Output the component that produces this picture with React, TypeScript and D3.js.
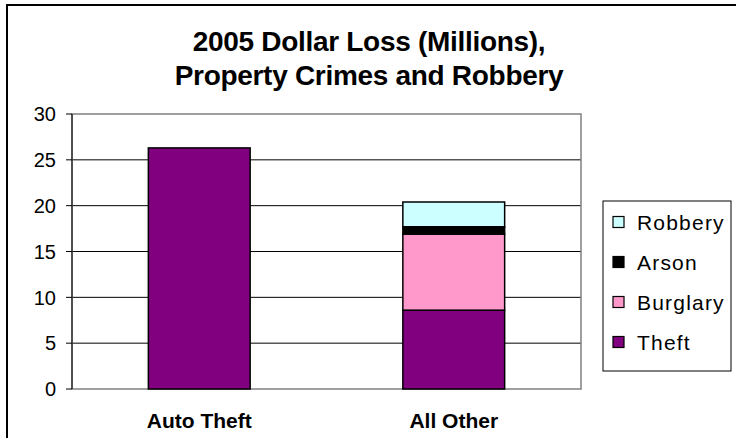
import React from "react";
import * as d3 from "d3";

const categories = ["Auto Theft", "All Other"];
const seriesNames = ["Theft", "Burglary", "Arson", "Robbery"];
const theft = [26.3, 8.6];
const burglary = [0, 8.3];
const arson = [0, 0.8];
const robbery = [0, 2.7];
const yTicks = [0, 5, 10, 15, 20, 25, 30];
const colors = ["#800080", "#FF99CC", "#000000", "#CCFFFF"];
const titleLines = ["2005 Dollar Loss (Millions),", "Property Crimes and Robbery"];

export default function App() {
  const W = 736, H = 438;
  const plot = { left: 72, right: 581, top: 114, bottom: 389 };
  const x = d3.scaleBand().domain(categories).range([plot.left, plot.right]).paddingInner(0.6).paddingOuter(0.3);
  const y = d3.scaleLinear().domain([0, 30]).range([plot.bottom, plot.top]);
  const rows = categories.map((c, i) => ({
    cat: c,
    Theft: theft[i],
    Burglary: burglary[i],
    Arson: arson[i],
    Robbery: robbery[i],
  }));
  const stacked = d3.stack<any>().keys(seriesNames)(rows);
  const font = "'Liberation Sans', Arial, sans-serif";
  const legendItems = [...seriesNames].reverse();
  const legend = { x: 603, y: 201, w: 128, h: 170 };

  return (
    <svg width={W} height={H} style={{ position: "absolute", left: 0, top: 0 }} fontFamily={font}>
      <rect x={0} y={0} width={W} height={H} fill="#fff" />
      <rect x={7} y={5} width={W + 10} height={H + 10} fill="none" stroke="#000" strokeWidth={2} />
      {titleLines.map((t, i) => (
        <text key={t} x={369} y={51 + i * 34} textAnchor="middle" fontWeight="bold" fontSize={28} letterSpacing={-0.3}>{t}</text>
      ))}
      {yTicks.slice(1, -1).map((t) => (
        <line key={t} x1={plot.left} x2={plot.right} y1={y(t)} y2={y(t)} stroke="#000" strokeWidth={1} />
      ))}
      <rect x={plot.left} y={plot.top} width={plot.right - plot.left} height={plot.bottom - plot.top} fill="none" stroke="#808080" strokeWidth={1.5} />
      {stacked.map((s, si) =>
        s.map((d, i) =>
          d[1] - d[0] > 0 ? (
            <rect
              key={si + "-" + i}
              x={x(categories[i])!}
              y={y(d[1])}
              width={x.bandwidth()}
              height={y(d[0]) - y(d[1])}
              fill={colors[si]}
              stroke="#000"
              strokeWidth={1.5}
            />
          ) : null
        )
      )}
      <line x1={plot.left} x2={plot.left} y1={plot.top} y2={plot.bottom} stroke="#000" strokeWidth={1} />
      {yTicks.map((t) => (
        <g key={t}>
          <line x1={plot.left - 6} x2={plot.left} y1={y(t)} y2={y(t)} stroke="#000" />
          <text x={56} y={y(t)} dy="0.36em" textAnchor="end" fontSize={20}>{t}</text>
        </g>
      ))}
      {categories.map((c) => (
        <text key={c} x={x(c)! + x.bandwidth() / 2} y={428} textAnchor="middle" fontWeight="bold" fontSize={21}>{c}</text>
      ))}
      <rect x={legend.x} y={legend.y} width={legend.w} height={legend.h} fill="#fff" stroke="#000" strokeWidth={1} />
      {legendItems.map((name, i) => {
        const cy = 222 + i * 40;
        return (
          <g key={name}>
            <rect x={613} y={cy - 5.5} width={11} height={11} fill={colors[seriesNames.indexOf(name)]} stroke="#000" strokeWidth={1.2} />
            <text x={637} y={cy} dy="0.36em" fontSize={21} letterSpacing={1.2}>{name}</text>
          </g>
        );
      })}
    </svg>
  );
}
